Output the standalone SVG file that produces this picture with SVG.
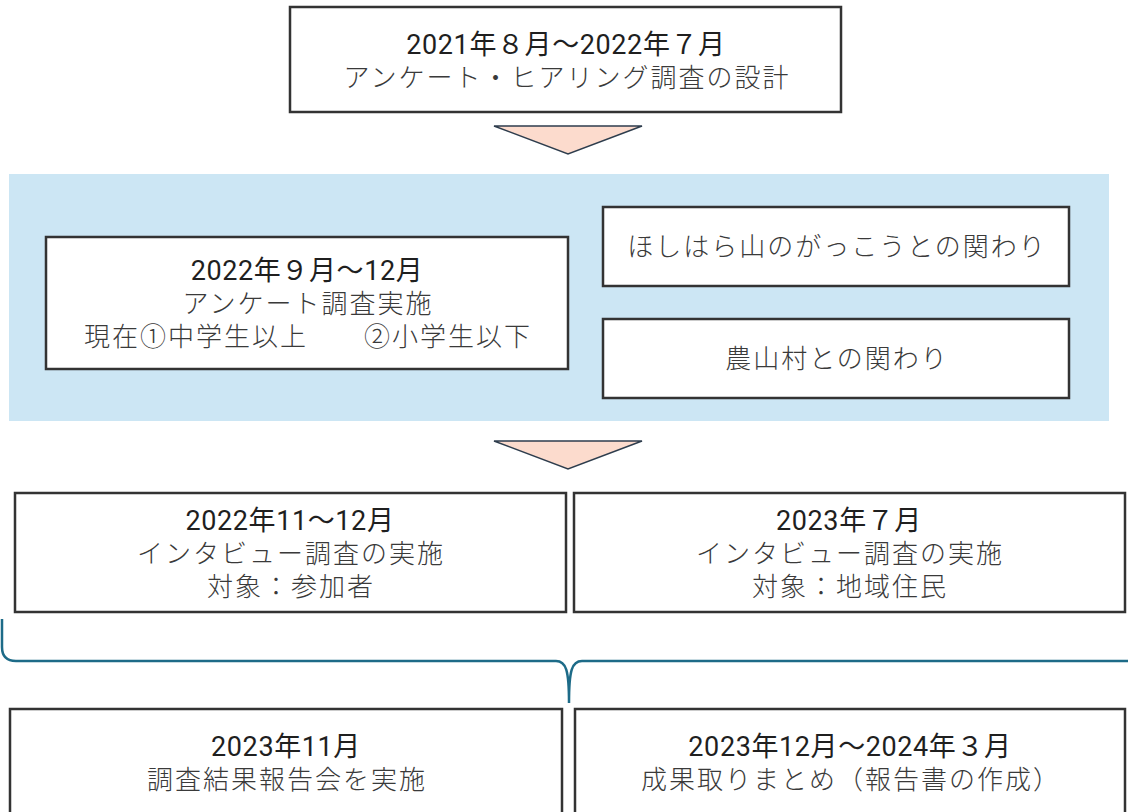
<svg xmlns="http://www.w3.org/2000/svg" width="1128" height="812" viewBox="0 0 1128 812">
  <style>
    .box { fill: #ffffff; stroke: #333333; stroke-width: 2.5; }
    .band { fill: #cce6f4; stroke: none; }
    .tri { fill: #fcdbcd; stroke: #2e3d4d; stroke-width: 1.5; stroke-linejoin: miter; }
    .brace { fill: none; stroke: #1d6b88; stroke-width: 2.5; }
    text { font-family: "Noto Sans CJK JP", "Noto Sans", sans-serif; font-size: 26px; text-anchor: middle; }
    .d { fill: #1f1f1f; font-family: Roboto, "Noto Sans CJK JP", sans-serif; font-size: 27px; font-weight: 400; letter-spacing: 0.6px; }
    .t { fill: #3a3a3a; font-weight: 300; letter-spacing: 2px; }
  </style>
  <rect width="1128" height="812" fill="#ffffff"/>

  <g id="band">
    <rect class="band" x="9" y="174" width="1100" height="247"/>
  </g>

  <g id="connectors">
    <polygon class="tri" points="494,126 642,126 568,154"/>
    <polygon class="tri" points="494,441 642,441 568,469"/>
    <path class="brace" d="M 2 619 L 2 647 Q 2 661 16 661 L 556 661 C 566 661 569 670 569 703 C 569 670 572 661 582 661 L 1140 661"/>
  </g>

  <g id="node-design">
    <rect class="box" x="290" y="7" width="551" height="105"/>
    <text class="d" x="566" y="54">2021年８月～2022年７月</text>
    <text class="t" x="567" y="87">アンケート・ヒアリング調査の設計</text>
  </g>

  <g id="node-survey">
    <rect class="box" x="46" y="237" width="522" height="132"/>
    <text class="d" x="307" y="280">2022年９月～12月</text>
    <text class="t" x="308" y="313">アンケート調査実施</text>
    <text class="t" x="308" y="346">現在①中学生以上　　②小学生以下</text>
  </g>

  <g id="node-hoshihara">
    <rect class="box" x="603" y="207" width="466" height="79"/>
    <text class="t" x="837" y="256">ほしはら山のがっこうとの関わり</text>
  </g>

  <g id="node-village">
    <rect class="box" x="603" y="319" width="466" height="79"/>
    <text class="t" x="837" y="368">農山村との関わり</text>
  </g>

  <g id="node-interview1">
    <rect class="box" x="15" y="493" width="551" height="119"/>
    <text class="d" x="290" y="530">2022年11～12月</text>
    <text class="t" x="291" y="563">インタビュー調査の実施</text>
    <text class="t" x="291" y="596">対象：参加者</text>
  </g>

  <g id="node-interview2">
    <rect class="box" x="574" y="493" width="551" height="119"/>
    <text class="d" x="849" y="530">2023年７月</text>
    <text class="t" x="850" y="563">インタビュー調査の実施</text>
    <text class="t" x="850" y="596">対象：地域住民</text>
  </g>

  <g id="node-report">
    <rect class="box" x="10" y="709" width="552" height="120"/>
    <text class="d" x="286" y="756">2023年11月</text>
    <text class="t" x="287" y="789">調査結果報告会を実施</text>
  </g>

  <g id="node-summary">
    <rect class="box" x="575" y="709" width="550" height="120"/>
    <text class="d" x="850" y="756">2023年12月～2024年３月</text>
    <text class="t" x="851" y="789">成果取りまとめ（報告書の作成）</text>
  </g>
</svg>
